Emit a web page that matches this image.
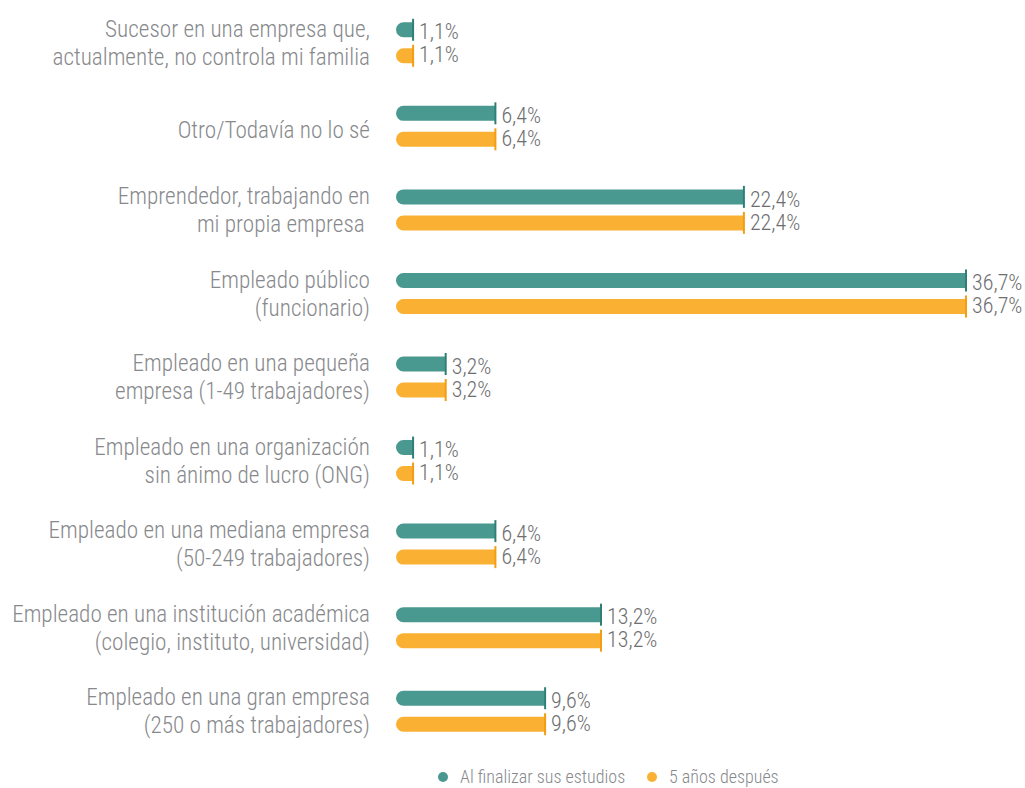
<!DOCTYPE html>
<html>
<head>
<meta charset="utf-8">
<script src="https://cdn.jsdelivr.net/npm/d3@7"></script>
<style>
  body { margin: 0; background: #fff; }
  svg text { font-family: 'Liberation Sans Narrow', 'Roboto Condensed', 'Roboto', sans-serif; font-weight: 300; }
</style>
</head>
<body>
<div id="chart"></div>
<script>
const categories = [
  ['Sucesor en una empresa que,', 'actualmente, no controla mi familia'],
  ['Otro/Todavía no lo sé'],
  ['Emprendedor, trabajando en', 'mi propia empresa '],
  ['Empleado público', '(funcionario)'],
  ['Empleado en una pequeña', 'empresa (1-49 trabajadores)'],
  ['Empleado en una organización', 'sin ánimo de lucro (ONG)'],
  ['Empleado en una mediana empresa', '(50-249 trabajadores)'],
  ['Empleado en una institución académica', '(colegio, instituto, universidad)'],
  ['Empleado en una gran empresa', '(250 o más trabajadores)']
]

const seriesNames = ['Al finalizar sus estudios', '5 años después']
const alFinalizar = [1.1, 6.4, 22.4, 36.7, 3.2, 1.1, 6.4, 13.2, 9.6]
const cincoAnios = [1.1, 6.4, 22.4, 36.7, 3.2, 1.1, 6.4, 13.2, 9.6]

const colors = ['#4a9990', '#fab133']
const tickColors = ['#2f7f76', '#f29d12']

const width = 1025
const height = 788
const margin = { top: 0, left: 396, right: 58, bottom: 36 }

const svg = d3
  .select('#chart')
  .append('svg')
  .attr('width', width)
  .attr('height', height)

const keys = categories.map((d, i) => i)

const xScale = d3
  .scaleLinear()
  .domain([0, 36.7])
  .range([margin.left, 966])

const yScale = d3
  .scaleBand()
  .domain(keys)
  .range([1, 753])

const yInner = d3
  .scaleBand()
  .domain([0, 1])
  .range([yScale.bandwidth() / 2 - 26, yScale.bandwidth() / 2 + 26])

const barH = 15

const datapoints = []
keys.forEach(i => {
  datapoints.push({ cat: i, s: 0, value: alFinalizar[i] })
  datapoints.push({ cat: i, s: 1, value: cincoAnios[i] })
})

const cy = d => yScale(d.cat) + yInner(d.s) + yInner.bandwidth() / 2

// bars, rounded on the left only
svg
  .selectAll('.bar')
  .data(datapoints)
  .enter()
  .append('path')
  .attr('class', 'bar')
  .attr('fill', d => colors[d.s])
  .attr('d', d => {
    const x0 = xScale(0)
    const x1 = xScale(d.value)
    const y0 = cy(d) - barH / 2
    const r = barH / 2
    return `M${x1},${y0}H${x0 + r}A${r},${r} 0 0 0 ${x0 + r},${y0 + barH}H${x1}Z`
  })

// end markers
svg
  .selectAll('.end-tick')
  .data(datapoints)
  .enter()
  .append('line')
  .attr('class', 'end-tick')
  .attr('x1', d => xScale(d.value))
  .attr('x2', d => xScale(d.value))
  .attr('y1', d => cy(d) - 11)
  .attr('y2', d => cy(d) + 11)
  .attr('stroke', d => tickColors[d.s])
  .attr('stroke-width', 2)

// value labels
svg
  .selectAll('.value')
  .data(datapoints)
  .enter()
  .append('text')
  .attr('class', 'value')
  .attr('x', d => xScale(d.value) + 6)
  .attr('y', d => cy(d) + (d.s === 0 ? 2 : -1))
  .attr('dy', '0.35em')
  .attr('font-size', 22)
  .attr('fill', '#6d6e70')
  .text(d => d.value.toFixed(1).replace('.', ',') + '%')

// category labels
const labels = svg
  .selectAll('.cat')
  .data(keys)
  .enter()
  .append('text')
  .attr('class', 'cat')
  .attr('text-anchor', 'end')
  .attr('font-size', 23.2)
  .attr('fill', '#87898c')

labels
  .selectAll('tspan')
  .data(i => categories[i].map((t, j) => ({ t, j, n: categories[i].length, i })))
  .enter()
  .append('tspan')
  .attr('x', 370)
  .attr('y', d => {
    const c = yScale(d.i) + yScale.bandwidth() / 2
    return d.n === 1 ? c + 4 : c + (d.j === 0 ? -14 : 14)
  })
  .attr('dy', '0.35em')
  .attr('xml:space', 'preserve')
  .style('white-space', 'pre')
  .text(d => d.t)

// legend
const legend = svg
  .append('g')
  .attr('transform', 'translate(0,' + (height - 11) + ')')

const legendX = [443, 652]

legend
  .selectAll('circle')
  .data(seriesNames)
  .enter()
  .append('circle')
  .attr('cx', (d, i) => legendX[i])
  .attr('cy', 0)
  .attr('r', 5)
  .attr('fill', (d, i) => colors[i])

legend
  .selectAll('text')
  .data(seriesNames)
  .enter()
  .append('text')
  .attr('x', (d, i) => legendX[i] + 17)
  .attr('y', 0)
  .attr('dy', '0.35em')
  .attr('font-size', 18)
  .attr('fill', '#87898c')
  .text(d => d)
</script>
</body>
</html>
